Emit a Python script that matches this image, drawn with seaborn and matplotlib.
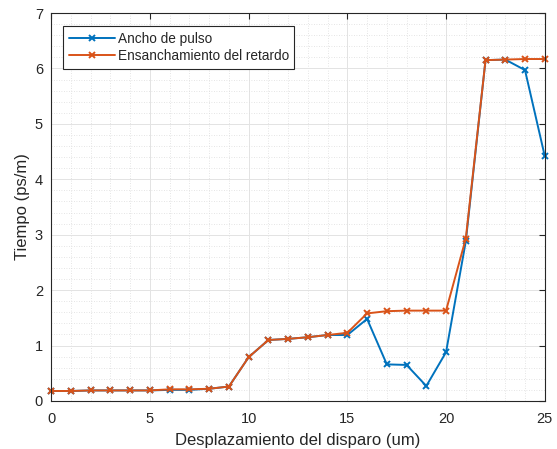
import numpy as np
import pandas as pd
import matplotlib
matplotlib.use("Agg")
import matplotlib.pyplot as plt
import seaborn as sns
from matplotlib.ticker import MultipleLocator

x_vals = list(range(0, 26))
ancho_pulso = [0.18, 0.18, 0.19, 0.19, 0.19, 0.19, 0.20, 0.20, 0.22, 0.26,
               0.79, 1.10, 1.12, 1.15, 1.19, 1.19, 1.48, 0.66, 0.65, 0.27,
               0.88, 2.88, 6.15, 6.16, 5.97, 4.42]
ensanchamiento = [0.18, 0.18, 0.19, 0.19, 0.19, 0.19, 0.21, 0.21, 0.22, 0.26,
                  0.79, 1.10, 1.12, 1.15, 1.19, 1.23, 1.58, 1.62, 1.63, 1.63,
                  1.63, 2.93, 6.15, 6.16, 6.17, 6.17]
series_names = ["Ancho de pulso", "Ensanchamiento del retardo"]
xlabel = "Desplazamiento del disparo (um)"
ylabel = "Tiempo (ps/m)"

df = pd.DataFrame({
    "x": x_vals * 2,
    "y": ancho_pulso + ensanchamiento,
    "serie": [series_names[0]] * len(x_vals) + [series_names[1]] * len(x_vals),
})

sns.set_theme(style="white")
plt.rcParams["font.family"] = ["Liberation Sans", "DejaVu Sans"]

fig = plt.figure(figsize=(5.57, 4.49), dpi=100)
ax = fig.add_axes([0.092, 0.107, 0.886, 0.864])

palette = {series_names[0]: "#0072BD", series_names[1]: "#D95319"}
sns.lineplot(data=df, x="x", y="y", hue="serie", palette=palette, marker="x",
             markersize=5, markeredgewidth=1.4, linewidth=1.4, ax=ax,
             dashes=False, estimator=None)

for line in ax.lines:
    line.set_markeredgecolor(line.get_color())
    line.set_clip_on(False)

ax.set_xlim(0, 25)
ax.set_ylim(0, 7)
ax.xaxis.set_major_locator(MultipleLocator(5))
ax.xaxis.set_minor_locator(MultipleLocator(1))
ax.yaxis.set_major_locator(MultipleLocator(1))
ax.yaxis.set_minor_locator(MultipleLocator(0.2))
ax.grid(which="major", color="#e3e3e3", linewidth=0.7)
ax.grid(which="minor", color="#dcdcdc", linewidth=0.6, linestyle=(0, (1, 2)))
ax.set_axisbelow(True)
for s in ax.spines.values():
    s.set_color("#262626")
    s.set_linewidth(0.8)
ax.tick_params(which="major", direction="in", length=4, width=0.8, color="#262626",
               top=True, right=True, labelsize=10.5, labelcolor="#262626")
ax.tick_params(axis="x", which="major", pad=8)
ax.tick_params(axis="y", which="major", pad=6)
ax.tick_params(which="minor", length=0)
ax.set_xlabel(xlabel, fontsize=12, color="#262626", labelpad=5)
ax.set_ylabel(ylabel, fontsize=12, color="#262626", labelpad=3)

leg = ax.legend(loc="upper left", bbox_to_anchor=(0.024, 0.966), fontsize=9.8,
                frameon=True, fancybox=False, edgecolor="#262626",
                handlelength=3.4, borderpad=0.4, labelspacing=0.25,
                handletextpad=0.2, borderaxespad=0)
leg.get_frame().set_linewidth(0.8)
leg.get_frame().set_facecolor("white")
leg.get_frame().set_alpha(1)
for h in leg.legend_handles:
    h.set_markeredgecolor(h.get_color())

fig.savefig("out.png", dpi=100)
